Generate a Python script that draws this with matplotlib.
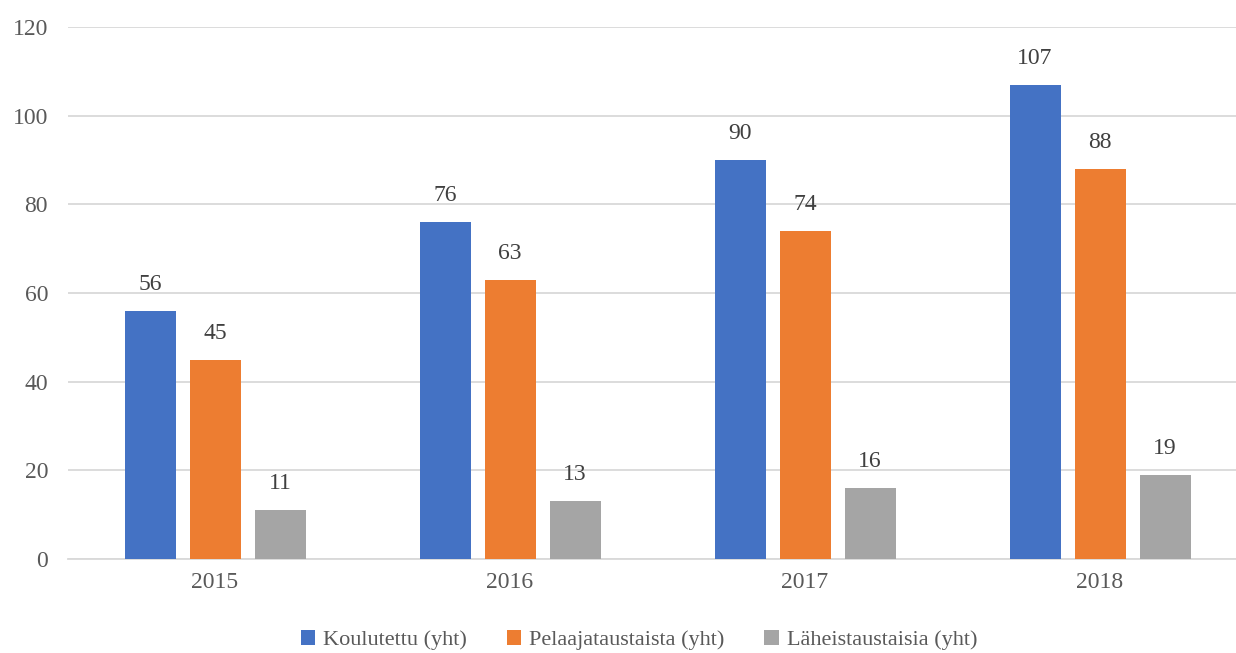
import numpy as np
import matplotlib.pyplot as plt

vuodet = ['2015', '2016', '2017', '2018']
koulutettu = [56, 76, 90, 107]
pelaaja = [45, 63, 74, 88]
laheis = [11, 13, 16, 19]
sarjat = ['Koulutettu (yht)', 'Pelaajataustaista (yht)', 'Läheistaustaisia (yht)']
varit = ['#4472c4', '#ed7d31', '#a5a5a5']

plt.rcParams['font.family'] = ['Liberation Serif', 'DejaVu Serif']

fig = plt.figure(figsize=(12.36, 6.53), dpi=100)
ax = fig.add_axes([67.5/1236, 1-559/653, 1180/1236, 532/653])

x = np.arange(len(vuodet))
w = 51/295
step = 65/295
for i, (arvot, nimi, c) in enumerate(zip([koulutettu, pelaaja, laheis], sarjat, varit)):
    pos = x + (i-1)*step
    ax.bar(pos, arvot, w, color=c, label=nimi, zorder=3)
    for p, v in zip(pos, arvot):
        ax.text(p, v + 3.6, str(v), ha='center', va='bottom', fontsize=17, color='#404040')

ax.set_xlim(-0.5, 3.5)
ax.set_ylim(0, 120)
ax.set_yticks(range(0, 121, 20))
ax.set_xticks(x)
ax.set_xticklabels(vuodet)
ax.grid(axis='y', color='#d9d9d9', linewidth=1.3, zorder=0)
for s in ['top', 'right', 'left']:
    ax.spines[s].set_visible(False)
ax.spines['bottom'].set_color('#d9d9d9')
ax.spines['bottom'].set_linewidth(1.3)
ax.tick_params(axis='both', length=0, labelsize=17, colors='#595959', pad=9)
ax.tick_params(axis='y', pad=14)

fig.legend(loc='lower center', bbox_to_anchor=(0.517, -0.026), ncol=3, frameon=False,
           fontsize=16, labelcolor='#595959', handlelength=0.65, handleheight=0.65,
           handletextpad=0.35, columnspacing=1.8)

fig.savefig('out.png', dpi=100)
